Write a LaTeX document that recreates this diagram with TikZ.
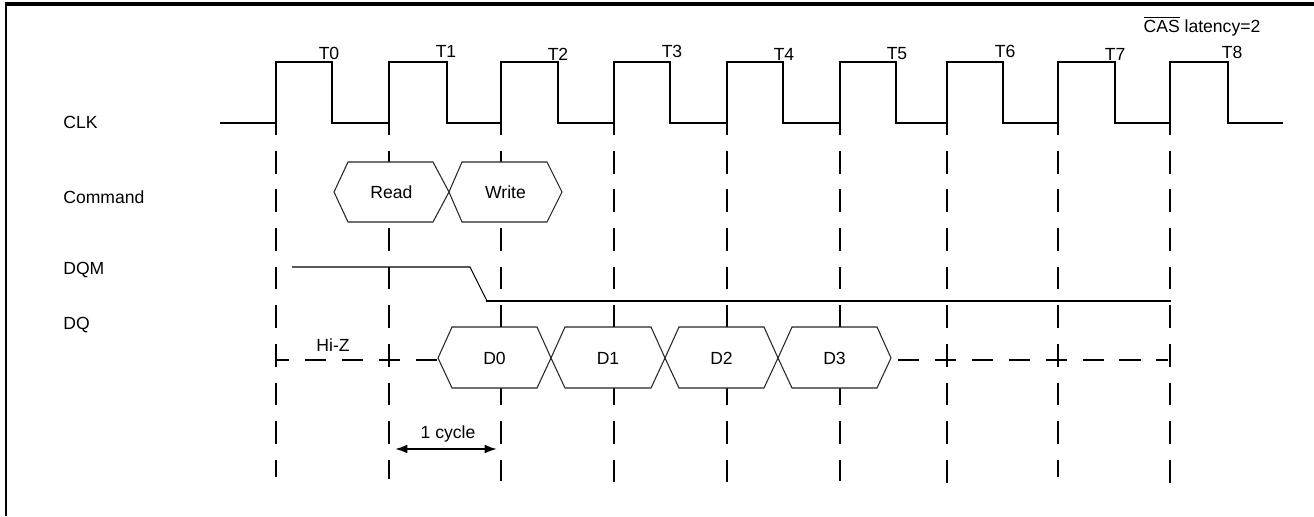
\documentclass[tikz,border=0pt]{standalone}
\usepackage{fontspec}
\setmainfont{Liberation Sans}
\usepackage{tikz}
\usetikzlibrary{arrows.meta}

\begin{document}
\begin{tikzpicture}[x=0.2mm,y=-0.2mm,
  lbl/.style={font=\fontsize{10}{12}\selectfont,inner sep=0pt},
  grid/.style={line width=1.2pt,dash pattern=on 13pt off 9pt},
  hiz/.style={line width=1.1pt,dash pattern=on 12pt off 9pt},
  bus/.style={line width=0.6pt,draw=black!85,fill=white},
  cyc/.style={line width=1.1pt,{Latex[length=7pt,width=5pt]}-{Latex[length=7pt,width=5pt]}}]
\useasboundingbox(0,0)rectangle(1314,516);
%frame
\draw[line width=1.7pt](6,516)--(6,4);
\draw[line width=2.3pt](5,4)--(1314,4);
%clock
\draw[line width=1.1pt](220,123)--(276,123)--(276,62)--(332,62)--(332,123)--(389,123)--(389,62)--(447,62)--(447,123)
  --(501,123)--(501,62)--(558,62)--(558,123)--(614,123)--(614,62)--(670,62)--(670,123)--(727,123)--(727,62)
  --(783,62)--(783,123)--(840,123)--(840,62)--(896,62)--(896,123)--(947,123)--(947,62)--(1003,62)--(1003,123)
  --(1058,123)--(1058,62)--(1115,62)--(1115,123)--(1170,123)--(1170,62)--(1228,62)--(1228,123)--(1283,123);
%cycle lines
\draw[grid](276,112)--(276,477);
\draw[grid](389,112)--(389,479);
\draw[grid](501,112)--(501,481);
\draw[grid](614,112)--(614,482);
\draw[grid](727,112)--(727,482);
\draw[grid](840,112)--(840,481);
\draw[grid](947,112)--(947,484);
\draw[grid](1058,112)--(1058,477);
\draw[grid](1170,112)--(1170,485);
%DQM
\draw[line width=0.6pt](292,267)--(470,267)--(487,301);
\draw[line width=1.1pt](486,301)--(1171,301);
%DQ high impedance
\draw[hiz,dash phase=4.5pt](276,360)--(438,360);
\draw[hiz](898,360)--(1168,360);
%read
\begin{scope}[shift={(391.5,192)}]
\draw[bus](-57.5,0)--(-43.5,-30)--(41.5,-30)--(57.5,0)--(41.5,30)--(-43.5,30)--cycle;
\node[lbl](rd)at(0,0){Read};
\end{scope}
%write
\begin{scope}[shift={(505.5,192)}]
\draw[bus](-56.5,0)--(-43.5,-30)--(41.5,-30)--(56.5,0)--(41.5,30)--(-43.5,30)--cycle;
\node[lbl](wr)at(0,0){Write};
\end{scope}
%D0
\begin{scope}[shift={(494.5,358)}]
\draw[bus](-56.5,0)--(-42.5,-31)--(42.5,-31)--(56.5,0)--(42.5,30)--(-42.5,30)--cycle;
\node[lbl](d0)at(0,0){D0};
\end{scope}
%D1
\begin{scope}[shift={(608,358)}]
\draw[bus](-57,0)--(-43,-31)--(43,-31)--(57,0)--(43,30)--(-43,30)--cycle;
\node[lbl](d1)at(0,0){D1};
\end{scope}
%D2
\begin{scope}[shift={(721.5,358)}]
\draw[bus](-56.5,0)--(-42.5,-31)--(42.5,-31)--(56.5,0)--(42.5,30)--(-42.5,30)--cycle;
\node[lbl](d2)at(0,0){D2};
\end{scope}
%D3
\begin{scope}[shift={(834.5,358)}]
\draw[bus](-56.5,0)--(-42.5,-31)--(42.5,-31)--(56.5,0)--(42.5,30)--(-42.5,30)--cycle;
\node[lbl](d3)at(0,0){D3};
\end{scope}
%one cycle
\coordinate(cycl)at(395,449);
\coordinate(cycr)at(497,449);
\draw[cyc](cycl)--(cycr);
\node[lbl](cyctxt)at(448,434){1 cycle};
%labels
\node[lbl,anchor=west](clk)at(63,122){CLK};
\node[lbl,anchor=west](cmd)at(63,197){Command};
\node[lbl,anchor=west](dqm)at(63,270){DQM};
\node[lbl,anchor=west](dq)at(63,325){DQ};
\node[lbl](hiz)at(333,345){Hi-Z};
\node[lbl](cas)at(1202,26){$\overline{\mbox{CAS}}$ latency=2};
\node[lbl](t0)at(329,53){T0};
\node[lbl](t1)at(446,51){T1};
\node[lbl](t2)at(558,54){T2};
\node[lbl](t3)at(672,51){T3};
\node[lbl](t4)at(784,54){T4};
\node[lbl](t5)at(897,54){T5};
\node[lbl](t6)at(1005,51){T6};
\node[lbl](t7)at(1115,54){T7};
\node[lbl](t8)at(1232,52){T8};
\end{tikzpicture}
\end{document}
